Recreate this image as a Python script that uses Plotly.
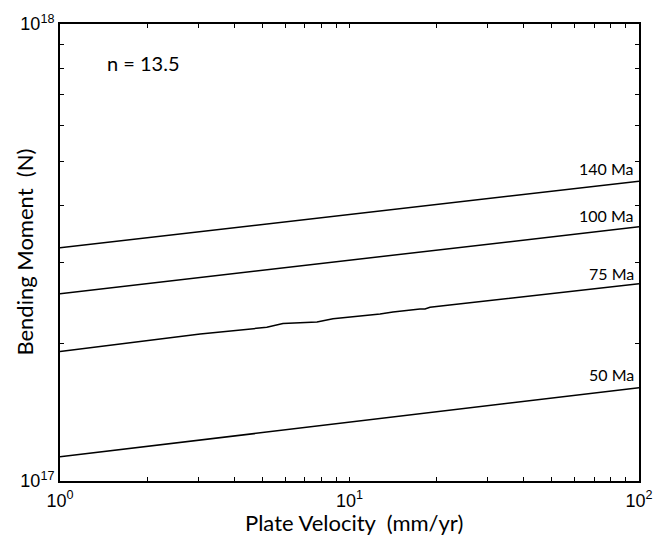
import plotly.graph_objects as go
import numpy as np

# Data
vel_straight = [1, 100]
m140 = [3.24e17, 4.53e17]
m100 = [2.57e17, 3.60e17]
m50 = [1.13e17, 1.60e17]

vel75 = [1, 3.05, 5.18, 5.89, 7.72, 8.77, 12.75, 14.13, 17.52, 18.23, 18.97, 22.2, 100]
m75 = [1.92e17, 2.097e17, 2.169e17, 2.210e17, 2.228e17, 2.265e17, 2.320e17, 2.343e17,
       2.379e17, 2.379e17, 2.399e17, 2.427e17, 2.70e17]

labels = ["140 Ma", "100 Ma", "75 Ma", "50 Ma"]
label_y = [4.84e17, 3.82e17, 2.85e17, 1.71e17]

xticks = [v * 10**d for d in range(0, 2) for v in range(1, 10)] + [100]
xtext = ["10<sup>%d</sup>" % int(round(np.log10(v))) if np.isclose(np.log10(v) % 1, 0) else "" for v in xticks]
yticks = [v * 1e17 for v in range(1, 11)]
ytext = ["10<sup>17</sup>"] + [""] * 8 + ["10<sup>18</sup>"]

fig = go.Figure()
line = dict(color="black", width=1.5)
for y in (m140, m100, m50):
    fig.add_trace(go.Scatter(x=vel_straight, y=y, mode="lines", line=line, showlegend=False))
fig.add_trace(go.Scatter(x=vel75, y=m75, mode="lines", line=line, showlegend=False))

lab_font = dict(family="Lato", size=16, color="black")
for t, yv in zip(labels, label_y):
    fig.add_annotation(x=np.log10(98), y=np.log10(yv), text=t, showarrow=False,
                       xanchor="right", yanchor="middle", font=lab_font)
fig.add_annotation(x=np.log10(1.43), y=np.log10(8.2e17), text="n = 13.5", showarrow=False,
                   xanchor="left", yanchor="middle",
                   font=dict(family="Lato", size=20, color="black"))

title_font = dict(family="Lato", size=22, color="black")
fig.add_annotation(xref="paper", yref="paper", x=0.507, y=-0.0915, text="Plate Velocity  (mm/yr)",
                   showarrow=False, xanchor="center", yanchor="middle", font=title_font)
fig.add_annotation(xref="paper", yref="paper", x=-0.062, y=0.50, text="Bending Moment  (N)",
                   textangle=-90, showarrow=False, xanchor="center", yanchor="middle", font=title_font)

axis_common = dict(showgrid=False, zeroline=False, showline=True, linecolor="black",
                   linewidth=2, mirror="allticks", ticks="inside", ticklen=4,
                   tickcolor="black", tickwidth=1,
                   tickfont=dict(family="Liberation Sans", size=18, color="black"))
fig.update_xaxes(type="log", range=[0, 2], tickmode="array", tickvals=xticks, ticktext=xtext,
                 ticklabelstandoff=2, **axis_common)
fig.update_yaxes(type="log", range=[17, 18], tickmode="array", tickvals=yticks, ticktext=ytext,
                 **axis_common)
fig.update_layout(width=665, height=536, margin=dict(l=60, r=26, t=24, b=55),
                  paper_bgcolor="white", plot_bgcolor="white")
fig.write_html("out.html")
